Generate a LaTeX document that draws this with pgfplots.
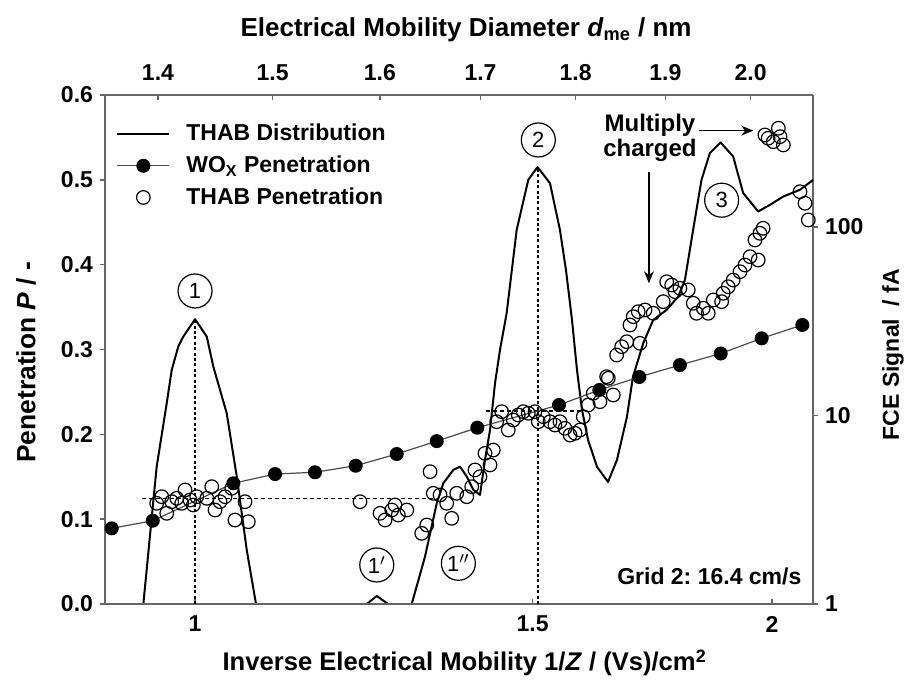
\documentclass[border=0pt]{standalone}
\usepackage{fontspec}
\setmainfont{Liberation Sans}
\usepackage{pgfplots}
\pgfplotsset{compat=1.18}
\usetikzlibrary{arrows.meta}
\frenchspacing
\pgfplotsset{
  myaxis/.style={
    scale only axis, width=354pt, height=254.5pt,
    at={(0pt,0pt)}, anchor=south west,
    font=\bfseries\fontsize{11.5}{13}\selectfont,
    axis line style={-, draw=black!60, line width=0.8pt},
    tick style={draw=black!60, line width=0.8pt},
    major tick length=2.5pt,
    minor tick style={draw=none},
    /pgf/number format/assume math mode=true,
  }
}
\begin{document}
\begin{tikzpicture}[x=1pt,y=1pt]
\path[use as bounding box] (-52.5,-38.5) rectangle (401.5,302);
% ---------- right axis: THAB distribution (FCE signal) ----------
\begin{axis}[myaxis,
  xmode=log, xmin=0.8975, xmax=2.1009,
  ymode=log, ymin=1, ymax=500,
  axis y line*=right, axis x line=none,
  tick align=outside,
  ytick={1,10,100}, yticklabels={1,10,100},
  every axis y label/.style={at={(axis description cs:1.113,0.49)}, rotate=90, anchor=center,
    font=\bfseries\fontsize{11.5}{13}\selectfont},
  ylabel={FCE Signal \ / fA},
]
\addplot[black, line width=1pt, line join=round] coordinates {
(0.9305,0.50) (0.9398,1.0) (0.9550,5.35) (0.9666,11.61) (0.9724,17.43) (0.9801,23.17)
(0.9860,26.18) (1.0,32.38) (1.0142,26.18) (1.0222,18.15) (1.0305,13.65) (1.0388,10.27)
(1.0514,4.74) (1.0641,1.934) (1.0760,1.0) (1.0943,0.395) (1.1481,0.09) (1.2192,0.644)
(1.2290,1.0) (1.2440,1.103) (1.2609,1.0) (1.2715,0.644) (1.2800,0.3) (1.2973,1.0)
(1.3182,1.782) (1.3369,3.42) (1.3476,4.37) (1.3638,5.14) (1.3748,5.35) (1.3860,4.74)
(1.3970,4.03) (1.4082,3.79) (1.4167,5.81) (1.4253,8.38) (1.4339,14.82) (1.4425,22.26)
(1.4541,34.85) (1.4717,96.4) (1.4924,177.6) (1.5090,207.4) (1.5317,170.5) (1.5502,96.4)
(1.5614,59.2) (1.5728,32.1) (1.5823,17.43) (1.5918,10.70) (1.6034,7.41) (1.6208,5.33)
(1.6423,4.44) (1.6601,5.81) (1.6802,9.82) (1.6923,16.0) (1.7134,24.15) (1.7341,32.1)
(1.7623,36.3) (1.7870,42.7) (1.8014,52.3) (1.8193,96.4) (1.8378,177.6) (1.8562,246.0)
(1.8804,280.1) (1.9091,236.0) (1.9321,151.0) (1.9672,120.6) (1.9951,130.8) (2.0272,144.8)
(2.0682,157.1) (2.1015,177.6)
};
\end{axis}
% ---------- top axis: diameter ----------
\begin{axis}[myaxis,
  xmode=log, xmin=1.3561, xmax=2.0764, ymin=0, ymax=1,
  axis x line*=top, axis y line=none,
  tick align=inside,
  xtick={1.4,1.5,1.6,1.7,1.8,1.9,2.0},
  xticklabels={1.4,1.5,1.6,1.7,1.8,1.9,2.0},
  xticklabel style={yshift=3.5pt},
  every axis x label/.style={at={(axis description cs:0.51,1.128)}, anchor=center,
    font=\bfseries\fontsize{13}{15}\selectfont},
  xlabel={Electrical Mobility Diameter \textit{d}\textsubscript{me} / nm},
]
\addplot[draw=none, forget plot] coordinates {(1.5,0.5)};
\end{axis}
% ---------- main axis: penetration ----------
\begin{axis}[myaxis,
  xmode=log, xmin=0.8975, xmax=2.1009,
  ymin=0, ymax=0.6,
  axis x line*=bottom, axis y line*=left,
  tick align=outside,
  xtick={1,1.5,2}, xticklabels={1,1.5,2},
  xtick style={yshift=2.5pt},
  ytick={0,0.1,0.2,0.3,0.4,0.5,0.6},
  yticklabel style={/pgf/number format/.cd, fixed, fixed zerofill, precision=1},
  every axis x label/.style={at={(axis description cs:0.508,-0.1159)}, anchor=center,
    font=\bfseries\fontsize{12.8}{15}\selectfont},
  every axis y label/.style={at={(axis description cs:-0.1116,0.475)}, rotate=90, anchor=center,
    font=\bfseries\fontsize{13.2}{15}\selectfont},
  xlabel={Inverse Electrical Mobility 1/\textit{Z} / (Vs)/cm\textsuperscript{2}},
  ylabel={Penetration \textit{P} / -},
  legend style={at={(axis description cs:0.007,0.959)}, anchor=north west, draw=none, fill=none,
    row sep=2pt, font=\bfseries\fontsize{11.5}{13}\selectfont, cells={anchor=west}},
  legend image code/.code={\draw[mark repeat=2,mark phase=2,#1] plot coordinates {(0pt,0pt) (13pt,0pt) (26pt,0pt)}; \path[draw=none,fill=none] (32.5pt,0pt);},
]
\addlegendimage{black, line width=1pt}
\addlegendentry{THAB Distribution}
% dotted guide lines
\addplot[forget plot, black, line width=1pt, dash pattern=on 1.5pt off 1.2pt] coordinates {(1,0) (1,0.336)};
\addplot[forget plot, black, line width=0.8pt, dash pattern=on 2pt off 1.5pt] coordinates {(0.9380,0.1246) (1.3341,0.1246)};
\addplot[forget plot, black, line width=1pt, dash pattern=on 1.5pt off 1.2pt] coordinates {(1.509,0) (1.509,0.515)};
\addplot[forget plot, black, line width=0.8pt, dash pattern=on 2pt off 1.5pt] coordinates {(1.4184,0.2275) (1.5912,0.2275)};
% WOx penetration
\addplot[black!70, line width=0.6pt, mark=*, mark size=3.2pt, mark options={fill=black, draw=black}] coordinates {
(0.9048,0.0892) (0.9505,0.0982) (1.0471,0.1423) (1.1009,0.1532) (1.1550,0.1553) (1.2129,0.1630)
(1.2741,0.1768) (1.3369,0.1920) (1.4037,0.2078) (1.5484,0.2346) (1.6253,0.2523) (1.7053,0.2676)
(1.7906,0.2817) (1.8805,0.2953) (1.9753,0.3132) (2.0741,0.3289)
};
\addlegendentry{WO\textsubscript{X} Penetration}
% THAB penetration
\addplot[only marks, mark=o, mark size=3.4pt, mark options={black, line width=0.6pt}] coordinates {
(0.9550,0.1187) (0.9608,0.1265) (0.9666,0.1069) (0.9724,0.1206) (0.9783,0.1246) (0.9841,0.1187)
(0.9881,0.1344) (0.9940,0.1226) (0.9980,0.1167) (1.0020,0.1265) (1.0142,0.1246) (1.0203,0.1383)
(1.0243,0.1108) (1.0305,0.1206) (1.0367,0.1265) (1.0451,0.1364) (1.0492,0.0990) (1.0619,0.1206)
(1.0661,0.0970) (1.2192,0.1206) (1.2489,0.1069) (1.2564,0.0990) (1.2666,0.1108) (1.2715,0.1167)
(1.2766,0.1049) (1.2896,0.1108) (1.3130,0.0833) (1.3209,0.0931) (1.3262,0.1560) (1.3314,0.1305)
(1.3422,0.1285) (1.3530,0.1187) (1.3611,0.1010) (1.3694,0.1305) (1.3860,0.1265) (1.3943,0.1383)
(1.3998,0.1580) (1.4082,0.1501) (1.4167,0.1776) (1.4253,0.1639) (1.4309,0.1815) (1.4368,0.2149)
(1.4454,0.2267) (1.4569,0.2051) (1.4657,0.2169) (1.4745,0.2228) (1.4835,0.2267) (1.4924,0.2248)
(1.5044,0.2267) (1.5104,0.2149) (1.5195,0.2208) (1.5317,0.2149) (1.5410,0.2110) (1.5502,0.2149)
(1.5596,0.2071) (1.5691,0.1992) (1.5786,0.2012) (1.5881,0.2051) (1.5943,0.2208) (1.6039,0.2346)
(1.6135,0.2484) (1.6266,0.2385) (1.6430,0.2661) (1.6529,0.2464) (1.6595,0.2935) (1.6397,0.2680)
(1.6696,0.3033) (1.6797,0.3092) (1.6863,0.3289) (1.6930,0.3387) (1.7032,0.3446) (1.7066,0.3073)
(1.7169,0.3466) (1.7341,0.3427) (1.7551,0.3564) (1.7623,0.3799) (1.7729,0.3760) (1.7800,0.3682)
(1.7906,0.3722) (1.8087,0.3702) (1.8195,0.3545) (1.8268,0.3427) (1.8415,0.3486) (1.8526,0.3427)
(1.8638,0.3584) (1.8827,0.3564) (1.8863,0.3663) (1.8977,0.3740) (1.9091,0.3819) (1.9247,0.3917)
(1.9362,0.3996) (1.9479,0.4094) (1.9596,0.4291) (1.9673,0.4055) (1.9713,0.4370) (1.9790,0.4429)
(1.9832,0.5529) (1.9910,0.5490) (2.0030,0.5450) (2.0152,0.5608) (2.0192,0.5509) (2.0273,0.5411)
(2.0682,0.4860) (2.0807,0.4724) (2.0890,0.4527)
};
\addlegendentry{THAB Penetration}
% annotations
\tikzset{circ/.style={circle, draw, line width=0.6pt, minimum size=17pt, inner sep=0pt, font=\mdseries\fontsize{11}{11}\selectfont}}
\node[circ] at (axis cs:1.0,0.369) {1};
\node[circ] at (axis cs:1.5104,0.547) {2};
\node[circ] at (axis cs:1.8827,0.476) {3};
\node[circ] at (axis cs:1.2440,0.046) {1$'$};
\node[circ] at (axis cs:1.3721,0.048) {1$''$};
\node[align=center, font=\bfseries\fontsize{12}{12.5}\selectfont] at (axis cs:1.7272,0.550) {Multiply\\charged};
\draw[-{Stealth[length=6pt,width=5pt]}, line width=0.8pt] (axis cs:1.8320,0.558) -- (axis cs:1.9555,0.558);
\draw[-{Stealth[length=6pt,width=5pt]}, line width=0.8pt] (axis cs:1.725,0.5096) -- (axis cs:1.725,0.3781);
\node[anchor=east, inner sep=0pt, font=\bfseries\fontsize{11.5}{13}\selectfont] at (axis cs:2.0727,0.032) {Grid 2: 16.4 cm/s};
\end{axis}
\end{tikzpicture}
\end{document}
